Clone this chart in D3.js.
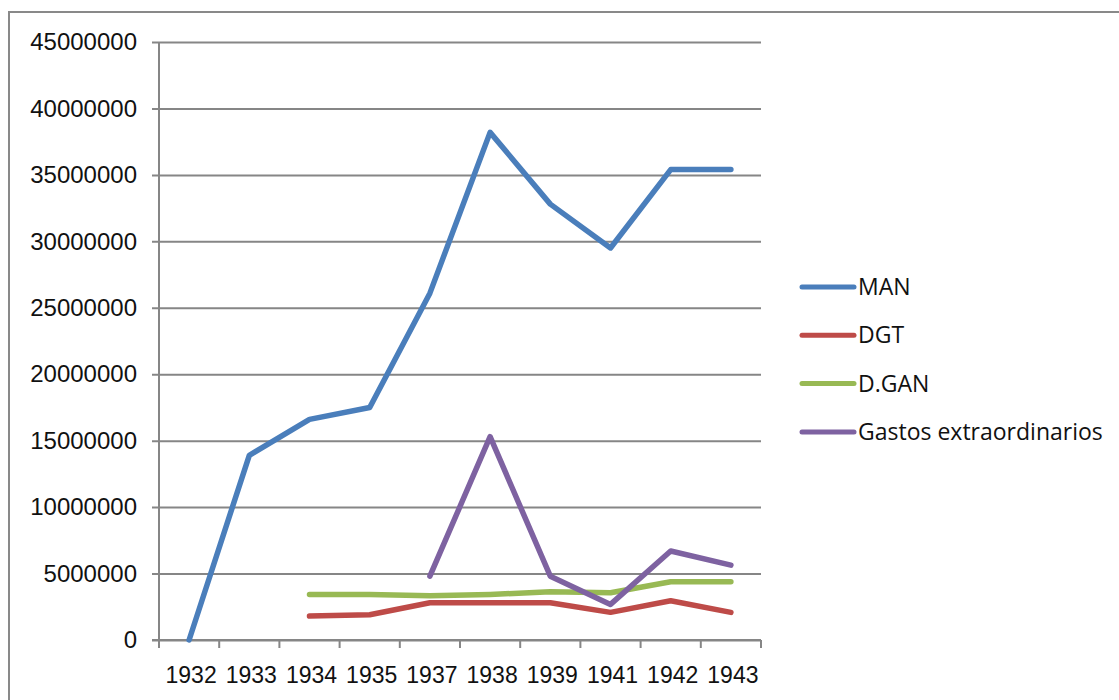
<!DOCTYPE html>
<html>
<head>
<meta charset="utf-8">
<script src="https://cdn.jsdelivr.net/npm/d3@7"></script>
<style>
  html, body { margin: 0; padding: 0; background: #fff; }
  svg { display: block; font-family: "Open Sans", sans-serif; }
</style>
</head>
<body>
<div id="chart"></div>
<script>
// categories (no 1936 / 1940 in the source)
const years = ["1932", "1933", "1934", "1935", "1937", "1938", "1939", "1941", "1942", "1943"];

// series values, null = no data for that year
const man = [0, 13900000, 16600000, 17500000, 26100000, 38200000, 32800000, 29500000, 35400000, 35400000];
const dgt = [null, null, 1800000, 1900000, 2800000, 2800000, 2800000, 2080000, 2950000, 2080000];
const dgan = [null, null, 3430000, 3420000, 3330000, 3430000, 3630000, 3550000, 4380000, 4380000];
const gastos = [null, null, null, null, 4800000, 15300000, 4800000, 2680000, 6700000, 5630000];

const yTicks = [0, 5000000, 10000000, 15000000, 20000000, 25000000, 30000000, 35000000, 40000000, 45000000];

const series = [
    { name: "MAN", values: man, color: "#4A7EBB" },
    { name: "DGT", values: dgt, color: "#BE4B48" },
    { name: "D.GAN", values: dgan, color: "#98B954" },
    { name: "Gastos extraordinarios", values: gastos, color: "#7E62A1" },
];

const width = 1119;
const height = 700;
const plot = { left: 159, right: 761, top: 42, bottom: 640 };

const svg = d3.select("#chart").append("svg").attr("width", width).attr("height", height);

// outer chart border (only top and left edges fall inside the picture)
svg.append("rect")
    .attr("x", 9)
    .attr("y", 12)
    .attr("width", width + 20)
    .attr("height", height + 20)
    .attr("fill", "none")
    .attr("stroke", "#898989")
    .attr("stroke-width", 2);

const x = d3.scaleBand().domain(years).range([plot.left, plot.right]).paddingInner(0).paddingOuter(0);
const y = d3.scaleLinear().domain([0, 45000000]).range([plot.bottom, plot.top]);
const cx = (c) => x(c) + x.bandwidth() / 2;

// Y gridlines + labels
const yAxis = svg.append("g")
    .attr("transform", `translate(${plot.left},0)`)
    .call(d3.axisLeft(y).tickValues(yTicks).tickFormat(d3.format("d")).tickSize(-(plot.right - plot.left)).tickPadding(15));
yAxis.select(".domain").remove();
yAxis.selectAll(".tick line")
    .attr("x1", -7)
    .attr("stroke", "#868686")
    .attr("stroke-width", 2);
yAxis.selectAll(".tick text")
    .attr("x", -22)
    .style("font-size", "24px")
    .attr("fill", "#111");

// vertical axis line
svg.append("line")
    .attr("x1", plot.left).attr("x2", plot.left)
    .attr("y1", plot.top).attr("y2", plot.bottom + 8)
    .attr("stroke", "#868686").attr("stroke-width", 2);

// X axis labels
const xAxis = svg.append("g")
    .attr("transform", `translate(0,${plot.bottom})`)
    .call(d3.axisBottom(x).tickSize(0).tickPadding(0));
xAxis.select(".domain").remove();
xAxis.selectAll(".tick text")
    .attr("y", 35)
    .attr("dy", "0.35em")
    .attr("dx", 2)
    .style("font-size", "23px")
    .attr("fill", "#111");

// X tick marks between categories
const edges = years.map((c) => x(c)).concat([plot.right]);
svg.append("g").selectAll("line")
    .data(edges)
    .join("line")
    .attr("x1", (d) => d).attr("x2", (d) => d)
    .attr("y1", plot.bottom).attr("y2", plot.bottom + 8)
    .attr("stroke", "#868686").attr("stroke-width", 2);

// X axis line
svg.append("line")
    .attr("x1", plot.left - 7).attr("x2", plot.right)
    .attr("y1", plot.bottom).attr("y2", plot.bottom)
    .attr("stroke", "#868686").attr("stroke-width", 2);

// lines
const line = d3.line()
    .defined((d) => d != null)
    .x((d, i) => cx(years[i]))
    .y((d) => y(d));

svg.append("g").selectAll("path")
    .data(series)
    .join("path")
    .attr("d", (s) => line(s.values))
    .attr("fill", "none")
    .attr("stroke", (s) => s.color)
    .attr("stroke-width", 5.5)
    .attr("stroke-linecap", "round")
    .attr("stroke-linejoin", "round");

// legend
const legend = svg.append("g").attr("transform", "translate(800,287)");
const item = legend.selectAll("g")
    .data(series)
    .join("g")
    .attr("transform", (d, i) => `translate(0,${i * 48.3})`);
item.append("line")
    .attr("x1", 2).attr("x2", 54)
    .attr("stroke", (d) => d.color)
    .attr("stroke-width", 5)
    .attr("stroke-linecap", "round");
item.append("text")
    .attr("x", 58)
    .attr("dy", "0.35em")
    .style("font-size", "23px")
    .attr("fill", "#111")
    .text((d) => d.name);
</script>
</body>
</html>
